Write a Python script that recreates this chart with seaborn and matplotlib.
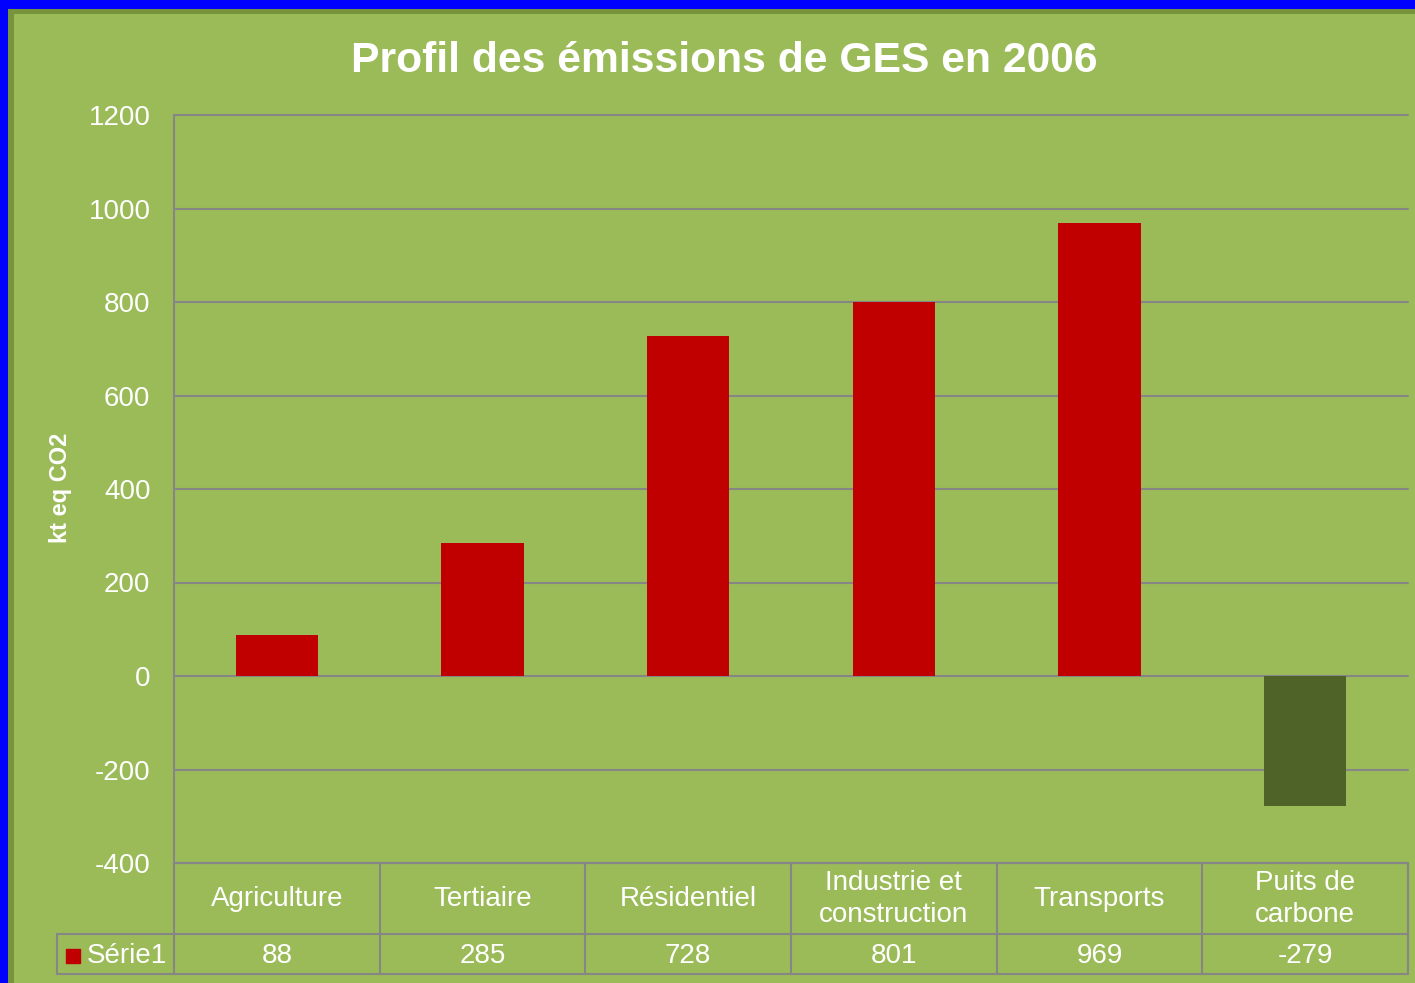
import pandas as pd
import matplotlib.pyplot as plt
import matplotlib.patches as mpatches
import matplotlib.transforms as mtransforms
import seaborn as sns

# data
categories = ["Agriculture", "Tertiaire", "Résidentiel", "Industrie et construction", "Transports", "Puits de carbone"]
table_labels = ["Agriculture", "Tertiaire", "Résidentiel", "Industrie et\nconstruction", "Transports", "Puits de\ncarbone"]
values = [88, 285, 728, 801, 969, -279]
series_name = "Série1"
yticks = [-400, -200, 0, 200, 400, 600, 800, 1000, 1200]

BG = "#9BBB59"
BORDER = "#77933C"
GRID = "#868686"
RED = "#C00000"
DARK = "#4F6228"

sns.set_style("white")
plt.rcParams["font.family"] = ["Liberation Sans", "DejaVu Sans"]
plt.rcParams["axes.unicode_minus"] = False

W, H = 1415, 983
fig = plt.figure(figsize=(W / 100, H / 100), dpi=100, facecolor="#0000FF")
# frame: blue outer edge, dark green border, light green chart area
fig.patches.append(mpatches.Rectangle((8 / W, 0), 1, (H - 9) / H, transform=fig.transFigure,
                                      facecolor=BORDER, edgecolor="none", zorder=-2))
fig.patches.append(mpatches.Rectangle((14 / W, 0), 1, (H - 14) / H, transform=fig.transFigure,
                                      facecolor=BG, edgecolor="none", zorder=-1))

ax = fig.add_axes([174 / W, 1 - 863 / H, (1408 - 174) / W, 748 / H])
ax.set_facecolor("none")

df = pd.DataFrame({"cat": categories, "val": values})
colors = [RED if v >= 0 else DARK for v in values]
sns.barplot(data=df, x="cat", y="val", hue="cat", palette=colors, width=0.4,
            saturation=1, legend=False, ax=ax, zorder=3, edgecolor="none", linewidth=0)

ax.set_yticks(yticks)
ax.yaxis.grid(True, color=GRID, lw=1.5)
ax.xaxis.grid(False)
ax.set_axisbelow(True)
ax.set_xticks([])
ax.set_xlabel("")
ax.set_ylabel("")
ax.tick_params(axis="y", length=0, pad=17, labelsize=20, labelcolor="white")
for s in ["top", "right"]:
    ax.spines[s].set_visible(False)
for s in ["left", "bottom"]:
    ax.spines[s].set_color(GRID)
    ax.spines[s].set_linewidth(1.5)

# data table below the axis
trans = mtransforms.blended_transform_factory(ax.transData, ax.transAxes)
r1 = -71 / 748
r2 = -111 / 748
x_leg = (57 - 174) / ((1408 - 174) / 6) - 0.5
n = len(categories)
line_kw = dict(color=GRID, lw=1.5, transform=trans, clip_on=False)
for i in range(n + 1):
    ax.plot([i - 0.5, i - 0.5], [0, r2], **line_kw)
ax.plot([x_leg, x_leg], [r1, r2], **line_kw)
ax.plot([x_leg, n - 0.5], [r1, r1], **line_kw)
ax.plot([x_leg, n - 0.5], [r2, r2], **line_kw)

row2_y = (r1 + r2) / 2 - 2 / 748
for i, (lab, v) in enumerate(zip(table_labels, values)):
    ax.text(i, r1 / 2, lab, transform=trans, ha="center", va="center",
            color="white", fontsize=20, linespacing=1.3)
    ax.text(i, row2_y, str(v), transform=trans, ha="center", va="center",
            color="white", fontsize=20)

ax.plot([x_leg + 0.08], [row2_y], marker="s", ms=10.5, color=RED,
        transform=trans, clip_on=False, ls="none")
ax.text(x_leg + 0.145, row2_y, series_name, transform=trans, ha="left", va="center",
        color="white", fontsize=20)

ax.set_xlim(-0.5, n - 0.5)
ax.set_ylim(-400, 1200)
for gl in ax.get_ygridlines():
    gl.set_clip_on(False)

fig.text(724 / W, 1 - 61 / H, "Profil des émissions de GES en 2006", ha="center", va="center",
         color="white", fontsize=30.7, fontweight="bold")
fig.text(60 / W, 1 - 488 / H, "kt eq CO2", ha="center", va="center", rotation=90,
         color="white", fontsize=17, fontweight="bold")

fig.savefig("out.png", dpi=100, facecolor=fig.get_facecolor())
